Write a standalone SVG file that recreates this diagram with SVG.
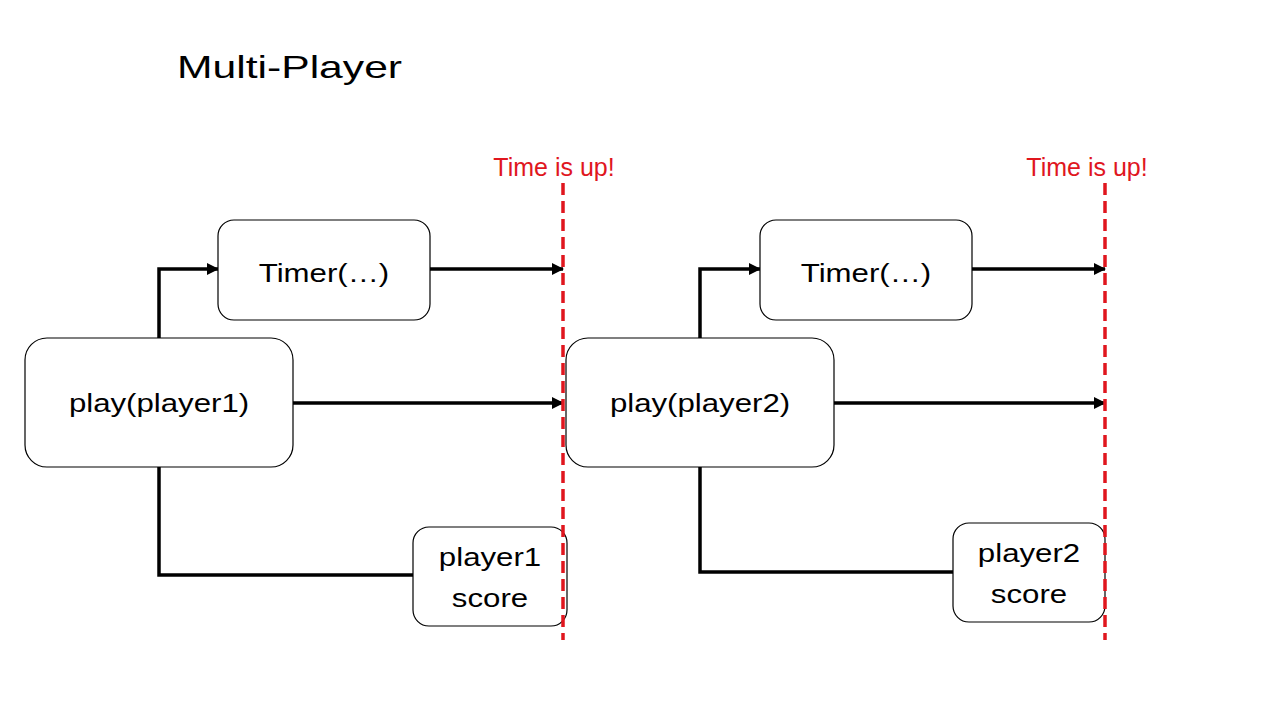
<svg xmlns="http://www.w3.org/2000/svg" width="1280" height="720" viewBox="0 0 1280 720">
<defs>
<style>
.box{fill:#fff;stroke:#000;stroke-width:1.2}
.lbl{font-family:"Liberation Sans",Arial,sans-serif;font-size:26px;fill:#000;text-anchor:middle}
.con{fill:none;stroke:#000;stroke-width:3.5}
.limit{stroke:#e0161e;stroke-width:3.5;stroke-dasharray:12 6}
.red{font-family:"Liberation Sans",Arial,sans-serif;font-size:25px;fill:#e0161e;text-anchor:middle}
</style>
<marker id="arr" markerUnits="userSpaceOnUse" markerWidth="12" markerHeight="12" refX="11" refY="6" orient="auto">
<path d="M0,0 L12,6 L0,12 z" fill="#000"/>
</marker>
</defs>
<rect width="1280" height="720" fill="#fff"/>
<text x="0" y="0" transform="translate(177,78) scale(1.333,1)" font-family="Liberation Sans, Arial, sans-serif" font-size="32" fill="#000">Multi-Player</text>

<g id="connectors">
<path class="con" d="M159,338 V269 H218" marker-end="url(#arr)"/>
<path class="con" d="M430,269 H563" marker-end="url(#arr)"/>
<path class="con" d="M293,403 H563" marker-end="url(#arr)"/>
<path class="con" d="M159,467 V575 H413"/>
<path class="con" d="M700,338 V269 H760" marker-end="url(#arr)"/>
<path class="con" d="M972,269 H1105" marker-end="url(#arr)"/>
<path class="con" d="M834,403 H1105" marker-end="url(#arr)"/>
<path class="con" d="M700,467 V572 H953"/>
</g>

<g id="timer1">
<rect class="box" x="218" y="220" width="212" height="100" rx="16"/>
<text class="lbl" transform="translate(324,282) scale(1.2,1)">Timer(…)</text>
</g>
<g id="play1">
<rect class="box" x="25" y="338" width="268" height="129" rx="22"/>
<text class="lbl" transform="translate(159,412) scale(1.2,1)">play(player1)</text>
</g>
<g id="score1">
<rect class="box" x="413" y="527" width="154" height="99" rx="16"/>
<text class="lbl" transform="translate(490,566) scale(1.2,1)">player1</text>
<text class="lbl" transform="translate(490,607) scale(1.2,1)">score</text>
</g>
<g id="timer2">
<rect class="box" x="760" y="220" width="212" height="100" rx="16"/>
<text class="lbl" transform="translate(866,282) scale(1.2,1)">Timer(…)</text>
</g>
<g id="play2">
<rect class="box" x="566" y="338" width="268" height="129" rx="22"/>
<text class="lbl" transform="translate(700,412) scale(1.2,1)">play(player2)</text>
</g>
<g id="score2">
<rect class="box" x="953" y="523" width="152" height="99" rx="16"/>
<text class="lbl" transform="translate(1029,562) scale(1.2,1)">player2</text>
<text class="lbl" transform="translate(1029,603) scale(1.2,1)">score</text>
</g>

<g id="limits">
<line class="limit" x1="563" y1="183" x2="563" y2="640"/>
<text class="red" x="554" y="176">Time is up!</text>
<line class="limit" x1="1105" y1="183" x2="1105" y2="640"/>
<text class="red" x="1087" y="176">Time is up!</text>
</g>
</svg>
